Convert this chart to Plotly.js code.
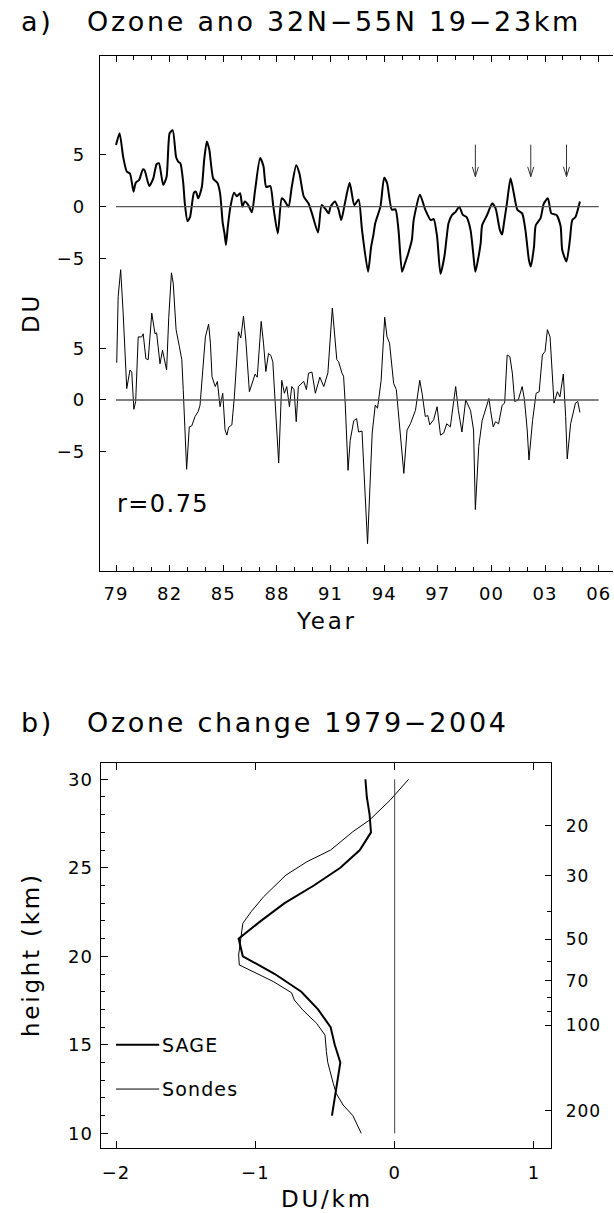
<!DOCTYPE html>
<html>
<head>
<meta charset="utf-8">
<script src="https://cdn.plot.ly/plotly-3.0.1.min.js"></script>
<style>
  html, body { margin: 0; padding: 0; background: #fff; }
  text { letter-spacing: 0.06em; }
  text[style*="font-size: 27px"] { letter-spacing: 0.1em; }
  text[style*="font-size: 23px"] { letter-spacing: 0.12em; }
</style>
</head>
<body>
<div id="chart" style="width:614px;height:1213px;"></div>
<script>
// ---------- Panel a: ozone anomaly time series (DU) ----------
const UPPER_YEARS = [1979.0,1979.2,1979.4,1979.6,1979.78,1979.98,1980.1,1980.3,1980.5,1980.6,1980.86,1981.08,1981.27,1981.4,1981.64,1981.83,1982.0,1982.17,1982.36,1982.48,1982.6,1982.76,1982.85,1983.0,1983.14,1983.36,1983.47,1983.6,1983.8,1983.93,1984.08,1984.22,1984.44,1984.67,1984.82,1984.97,1985.07,1985.15,1985.25,1985.4,1985.6,1985.76,1985.94,1986.07,1986.2,1986.4,1986.6,1986.78,1987.06,1987.25,1987.4,1987.63,1987.8,1988.05,1988.27,1988.4,1988.65,1988.83,1989.08,1989.26,1989.5,1989.77,1989.96,1990.3,1990.5,1990.7,1990.9,1991.0,1991.25,1991.45,1991.6,1991.8,1992.07,1992.33,1992.57,1992.76,1993.1,1993.27,1993.4,1993.5,1993.79,1994.0,1994.16,1994.43,1994.63,1994.8,1995.0,1995.16,1995.35,1995.55,1995.65,1996.0,1996.3,1996.6,1996.77,1996.96,1997.15,1997.37,1997.5,1997.6,1997.8,1998.0,1998.2,1998.4,1998.6,1998.83,1998.98,1999.1,1999.24,1999.4,1999.48,1999.76,2000.04,2000.23,2000.47,2000.6,2000.7,2000.88,2001.07,2001.25,2001.45,2001.72,2001.9,2002.1,2002.2,2002.38,2002.48,2002.75,2002.93,2003.16,2003.35,2003.64,2003.87,2003.96,2004.2,2004.39,2004.52,2004.7,2004.95];
const UPPER_DU = [5.97,7.1,4.8,3.4,3.2,1.45,2.3,2.6,3.6,3.5,2.0,2.7,4.1,4.2,2.1,2.9,7.1,7.4,4.8,4.35,4.2,2.3,0.3,-1.4,-1.0,1.35,1.45,0.8,1.9,4.5,6.3,5.5,2.7,2.3,1.3,-1.6,-2.6,-3.7,-2.0,0.0,1.35,1.0,1.3,0.0,0.5,0.15,-0.55,1.6,4.7,3.9,1.9,2.0,0.0,-2.6,0.8,0.65,0.0,1.9,4.0,3.2,1.0,0.3,-0.65,-2.5,0.15,-0.2,-0.65,0.0,0.5,-0.3,-1.3,0.3,2.3,0.15,0.7,-2.25,-6.3,-3.9,-2.7,-1.6,0.0,2.8,2.3,-0.3,-0.25,-2.25,-6.3,-5.5,-4.5,-3.2,-1.3,1.15,-0.3,-1.3,-1.2,-2.9,-6.5,-4.8,-2.9,-1.6,-0.8,-0.5,0.0,-0.8,-1.0,-2.25,-4.5,-6.3,-5.2,-3.5,-1.8,-0.8,0.3,-0.15,-2.25,-2.7,-1.6,0.5,2.75,1.3,-0.3,-0.65,-2.25,-5.2,-5.8,-3.9,-1.8,-1.1,0.3,0.8,-0.65,-0.8,-1.9,-4.2,-5.3,-3.2,-1.3,-1.0,0.5];

const LOWER_YEARS = [1979.04,1979.12,1979.26,1979.4,1979.6,1979.78,1979.88,1980.0,1980.1,1980.24,1980.43,1980.52,1980.67,1980.8,1981.0,1981.08,1981.18,1981.27,1981.46,1981.6,1981.68,1981.83,1981.95,1982.1,1982.2,1982.36,1982.54,1982.68,1982.76,1982.86,1982.95,1983.1,1983.24,1983.42,1983.6,1983.7,1983.9,1984.0,1984.18,1984.28,1984.37,1984.55,1984.67,1984.82,1984.97,1985.1,1985.2,1985.3,1985.48,1985.62,1985.85,1985.98,1986.13,1986.26,1986.46,1986.65,1986.78,1986.9,1987.12,1987.25,1987.38,1987.53,1987.66,1987.77,1987.9,1988.1,1988.22,1988.27,1988.42,1988.55,1988.7,1988.83,1988.96,1989.08,1989.2,1989.5,1989.65,1989.77,1989.96,1990.15,1990.4,1990.62,1990.85,1991.1,1991.35,1991.45,1991.64,1991.73,1991.82,1991.98,1992.1,1992.3,1992.46,1992.57,1992.76,1993.07,1993.33,1993.5,1993.63,1993.83,1994.03,1994.16,1994.3,1994.53,1994.68,1994.87,1995.1,1995.28,1995.47,1995.75,1995.99,1996.12,1996.3,1996.44,1996.55,1996.77,1996.96,1997.15,1997.33,1997.5,1997.7,1998.0,1998.15,1998.35,1998.56,1998.83,1999.0,1999.1,1999.29,1999.48,1999.67,1999.86,1999.95,2000.1,2000.23,2000.4,2000.6,2000.74,2000.88,2001.03,2001.17,2001.3,2001.5,2001.72,2001.85,2002.0,2002.1,2002.3,2002.5,2002.67,2002.85,2003.0,2003.13,2003.28,2003.5,2003.69,2003.83,2004.02,2004.15,2004.24,2004.43,2004.58,2004.7,2004.83,2004.95];
const LOWER_DU = [3.6,10.0,12.6,8.4,1.1,2.9,2.7,-0.9,-0.15,6.1,6.1,6.4,4.0,3.9,8.4,7.6,6.4,6.5,3.5,4.8,4.2,2.9,8.0,12.3,11.3,6.8,5.2,3.9,1.0,-2.9,-6.7,-2.6,-2.5,-1.6,-1.1,-0.5,3.9,6.1,7.35,5.5,2.25,1.3,1.8,-0.65,0.65,-2.9,-3.4,-2.65,-2.4,0.3,6.6,6.0,8.1,5.8,0.8,1.8,2.5,2.2,7.6,5.5,2.75,4.5,4.3,3.7,-0.3,-6.1,-0.65,1.9,0.65,1.3,-0.65,1.3,1.0,-2.1,1.3,1.8,1.0,2.6,2.7,0.65,2.2,1.3,2.6,8.9,3.9,3.7,2.6,2.3,-0.3,-6.8,-3.9,-2.0,-1.8,-3.1,-3.0,-13.9,-3.2,-0.5,-0.8,1.9,8.0,6.1,5.5,1.6,1.0,-2.9,-7.1,-2.9,-2.3,-1.0,1.9,0.65,-1.6,-1.5,-2.4,-1.9,-0.65,-3.4,-3.2,-2.3,-2.6,1.3,-1.0,-3.1,0.0,-1.0,-2.9,-10.6,-4.5,-2.0,-1.0,0.15,-1.0,-2.6,-2.1,-2.3,-0.5,-0.3,4.35,4.2,2.6,-0.15,0.0,1.3,0.0,-2.9,-5.8,-2.0,0.65,0.8,4.35,4.7,6.8,6.1,-0.3,0.8,0.3,2.5,-1.6,-5.7,-2.3,-1.2,-0.3,-0.15,-1.2];

const ARROW_YEARS = [1999.1, 2002.2, 2004.2];
const YEAR_TICKS = [1979,1982,1985,1988,1991,1994,1997,2000,2003,2006];
const YEAR_LABELS = ['79','82','85','88','91','94','97','00','03','06'];
const DU_TICKS = [-5, 0, 5];
const DU_LABELS = ['\u22125', '0', '5'];
const CORR_TEXT = 'r=0.75';

// ---------- Panel b: ozone change profile (DU/km) ----------
const SAGE_KM = [11,12,13,14,15,16,17,18,19,20,21,22,23,24,25,26,27,28,29,30];
const SAGE_DU = [-0.45,-0.43,-0.41,-0.39,-0.43,-0.46,-0.55,-0.67,-0.86,-1.09,-1.12,-0.96,-0.79,-0.58,-0.39,-0.25,-0.17,-0.18,-0.20,-0.21];
const SONDE_KM = [10.0,10.5,11.0,11.6,12.26,12.8,13.39,14.0,14.61,15.55,16.21,16.97,17.53,17.94,18.57,19.51,20.07,20.73,21.86,22.52,23.37,24.59,25.34,26.0,27.04,27.7,28.84,30.0];
const SONDE_DU = [-0.24,-0.27,-0.30,-0.37,-0.42,-0.44,-0.46,-0.48,-0.49,-0.50,-0.56,-0.66,-0.72,-0.74,-0.87,-1.115,-1.12,-1.11,-1.09,-1.03,-0.94,-0.78,-0.63,-0.46,-0.30,-0.18,-0.03,0.10];
const DUKM_TICKS = [-2,-1,0,1];
const DUKM_LABELS = ['\u22122','\u22121','0','1'];
const KM_TICKS = [10,15,20,25,30];
const P_LABELS = [20,30,50,70,100,200];   // hPa
const P_MINOR = [40,60,80,90];            // hPa
const SERIES_NAMES = ['SAGE','Sondes'];

// ---------- layout helpers ----------
const W = 614, H = 1213;
const px = v => v / W;
const py = v => 1 - v / H;
const OFFSET = 18.7;           // vertical offset of upper curve (DU)
const SCALE_H = 7;             // km, pressure-height conversion
const pToKm = p => SCALE_H * Math.log(1000 / p);

const FONT = 'DejaVu Sans, Liberation Sans, sans-serif';

const traces = [
  { x: UPPER_YEARS, y: UPPER_DU.map(v => v + OFFSET), xaxis: 'x', yaxis: 'y',
    mode: 'lines', line: { color: '#000', width: 2, shape: 'spline', smoothing: 0.6 },
    name: 'upper', hoverinfo: 'skip' },
  { x: LOWER_YEARS, y: LOWER_DU, xaxis: 'x', yaxis: 'y',
    mode: 'lines', line: { color: '#000', width: 1 }, name: 'lower', hoverinfo: 'skip' },
  { x: SAGE_DU, y: SAGE_KM, xaxis: 'x2', yaxis: 'y2',
    mode: 'lines', line: { color: '#000', width: 2 }, name: SERIES_NAMES[0], hoverinfo: 'skip' },
  { x: SONDE_DU, y: SONDE_KM, xaxis: 'x2', yaxis: 'y2',
    mode: 'lines', line: { color: '#000', width: 1 }, name: SERIES_NAMES[1], hoverinfo: 'skip' },
  // invisible trace so the pressure axis is drawn
  { x: [0], y: [20], xaxis: 'x2', yaxis: 'y3', mode: 'markers',
    marker: { opacity: 0 }, hoverinfo: 'skip', showlegend: false }
];

const shapes = [
  { type: 'line', xref: 'x', yref: 'y', x0: YEAR_TICKS[0], x1: YEAR_TICKS[YEAR_TICKS.length-1], y0: 0, y1: 0,
    line: { color: '#555', width: 1.3 } },
  { type: 'line', xref: 'x', yref: 'y', x0: YEAR_TICKS[0], x1: YEAR_TICKS[YEAR_TICKS.length-1], y0: OFFSET, y1: OFFSET,
    line: { color: '#555', width: 1.3 } },
  { type: 'line', xref: 'x2', yref: 'y2', x0: 0, x1: 0, y0: KM_TICKS[0], y1: KM_TICKS[KM_TICKS.length-1],
    line: { color: '#444', width: 1 } },
  // legend lines
  { type: 'line', xref: 'x2', yref: 'y2', x0: -2, x1: -1.69, y0: 15, y1: 15, line: { color: '#000', width: 2 } },
  { type: 'line', xref: 'x2', yref: 'y2', x0: -2, x1: -1.69, y0: 12.5, y1: 12.5, line: { color: '#000', width: 1 } }
];
// arrows above the upper curve
const ARROW_TOP = 6.0 + OFFSET, ARROW_TIP = 2.9 + OFFSET, AHX = 0.17, AHY = 0.95;
ARROW_YEARS.forEach(yr => {
  shapes.push({ type: 'path', xref: 'x', yref: 'y',
    path: `M ${yr},${ARROW_TOP} L ${yr},${ARROW_TIP} M ${yr-AHX},${ARROW_TIP+AHY} L ${yr},${ARROW_TIP} L ${yr+AHX},${ARROW_TIP+AHY}`,
    line: { color: '#333', width: 1 } });
});

const ann = (text, x, y, opts = {}) => Object.assign({
  text, x: px(x), y: py(y), xref: 'paper', yref: 'paper', showarrow: false,
  xanchor: 'left', yanchor: 'middle', font: { family: FONT, size: 18, color: '#000' }
}, opts);

const TITLE_FONT = { family: FONT, size: 27, color: '#000' };
const AXT_FONT = { family: FONT, size: 23, color: '#000' };

const annotations = [
  ann('a)', 19, 22, { font: TITLE_FONT }),
  ann('Ozone ano 32N\u221255N 19\u221223km', 85, 22, { font: TITLE_FONT }),
  ann('b)', 19, 722, { font: TITLE_FONT }),
  ann('Ozone change 1979\u22122004', 85, 722, { font: TITLE_FONT }),
  ann('DU', 31, 313, { xanchor: 'center', textangle: -90, font: AXT_FONT }),
  ann('Year', 326, 621, { xanchor: 'center', font: AXT_FONT }),
  ann('height (km)', 31, 955, { xanchor: 'center', textangle: -90, font: AXT_FONT }),
  ann('DU/km', 327, 1199, { xanchor: 'center', font: AXT_FONT }),
  ann(CORR_TEXT, 115, 504, { font: { family: FONT, size: 24, color: '#000' } }),
  { text: SERIES_NAMES[0], x: -1.685, y: 15, xref: 'x2', yref: 'y2', showarrow: false, xanchor: 'left', yanchor: 'middle',
    font: { family: FONT, size: 19, color: '#000' } },
  { text: SERIES_NAMES[1], x: -1.685, y: 12.5, xref: 'x2', yref: 'y2', showarrow: false, xanchor: 'left', yanchor: 'middle',
    font: { family: FONT, size: 19, color: '#000' } }
];

const axBase = {
  showgrid: false, zeroline: false, showline: true, linecolor: '#000', linewidth: 1,
  ticks: 'inside', tickcolor: '#000', tickwidth: 1, tickmode: 'array',
  tickfont: { family: FONT, size: 18, color: '#000' }, fixedrange: true
};

const duTickVals = DU_TICKS.concat(DU_TICKS.map(v => v + OFFSET));
const duTickText = DU_LABELS.concat(DU_LABELS);

const layout = {
  width: W, height: H,
  margin: { l: 0, r: 0, t: 0, b: 0 },
  paper_bgcolor: '#fff', plot_bgcolor: '#fff',
  showlegend: false,
  font: { family: FONT, size: 18, color: '#000' },
  xaxis: Object.assign({}, axBase, {
    domain: [px(100), px(613)], range: [1978.104, 2006.8], anchor: 'y',
    tickvals: YEAR_TICKS, ticktext: YEAR_LABELS, ticklen: 6, mirror: 'ticks',
    ticklabelstandoff: 6,
    minor: { tickmode: 'linear', tick0: 1979, dtick: 1, ticks: 'inside', ticklen: 4, tickcolor: '#000', showgrid: false }
  }),
  yaxis: Object.assign({}, axBase, {
    domain: [py(571), py(56)], range: [-16.54, 33.27], anchor: 'x',
    tickvals: duTickVals, ticktext: duTickText, ticklen: 6, mirror: false,
    ticklabelstandoff: 10
  }),
  xaxis2: Object.assign({}, axBase, {
    domain: [px(100.7), px(550.7)], range: [-2.11, 1.12], anchor: 'y2',
    tickvals: DUKM_TICKS, ticktext: DUKM_LABELS, ticklen: 7, mirror: 'ticks',
    ticklabelstandoff: 8
  }),
  yaxis2: Object.assign({}, axBase, {
    domain: [py(1148), py(763)], range: [9.17, 30.92], anchor: 'x2',
    tickvals: KM_TICKS, ticktext: KM_TICKS.map(String), ticklen: 7, mirror: true,
    ticklabelstandoff: 3,
    minor: { tickmode: 'linear', tick0: 10, dtick: 1, ticks: 'inside', ticklen: 4, tickcolor: '#000', showgrid: false }
  }),
  yaxis3: Object.assign({}, axBase, {
    domain: [py(1148), py(763)], range: [9.17, 30.92], anchor: 'x2', overlaying: 'y2', side: 'right',
    showline: false, tickvals: P_LABELS.map(pToKm), ticktext: P_LABELS.map(String), ticklen: 6,
    ticklabelstandoff: 14, tickfont: { family: FONT, size: 17, color: '#000' },
    minor: { tickmode: 'array', tickvals: P_MINOR.map(pToKm), ticks: 'inside', ticklen: 4, tickcolor: '#000', showgrid: false }
  }),
  shapes, annotations
};

Plotly.newPlot('chart', traces, layout, { staticPlot: true, displayModeBar: false });
</script>
</body>
</html>
